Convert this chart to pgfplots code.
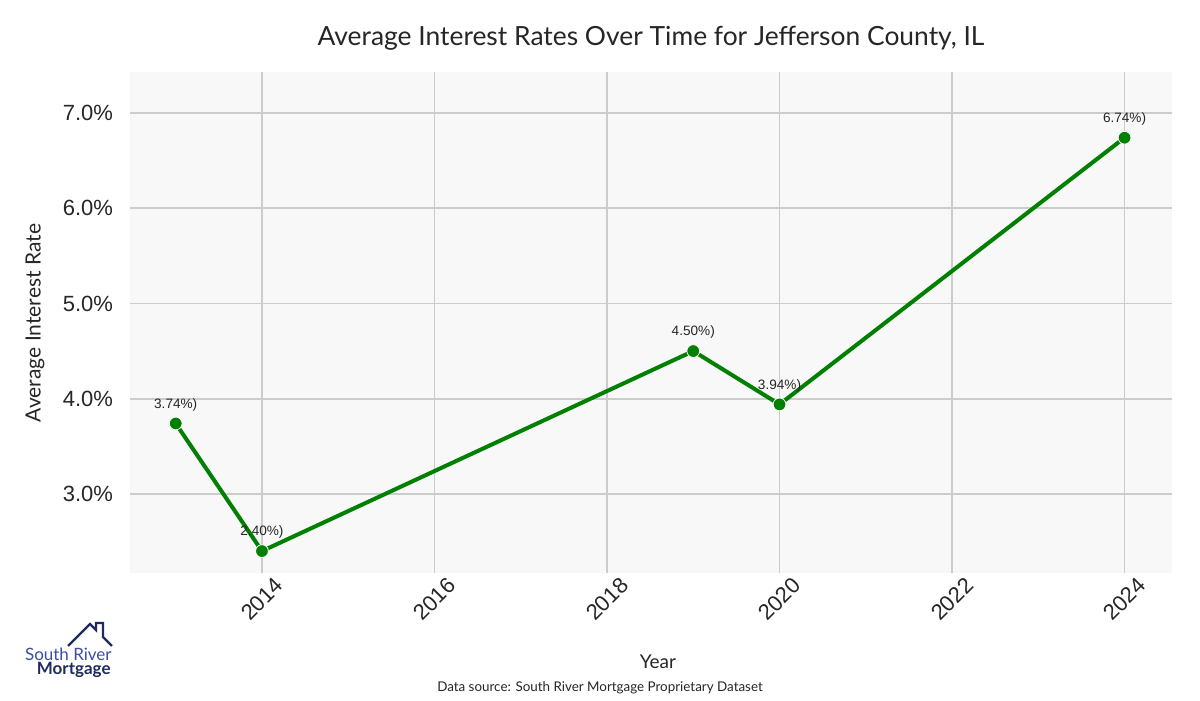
\documentclass[border=0pt]{standalone}
\usepackage{pgfplots}
\pgfplotsset{compat=1.18}
\usepackage{fontspec}
\setmainfont{Liberation Sans}
\newfontfamily\titlefont{Lato}
\definecolor{txt}{HTML}{262626}
\definecolor{gridc}{HTML}{CCCCCC}
\definecolor{bgc}{HTML}{F8F8F8}
\definecolor{linec}{HTML}{008000}
\definecolor{srblue}{HTML}{3B4DA6}
\definecolor{srnavy}{HTML}{1F2A5E}
\begin{document}
\begin{tikzpicture}[x=0.5pt,y=0.5pt]
% page frame, 1 unit = 1 reference pixel
\path (0,0) rectangle (1200,700);
\begin{axis}[
  at={(65pt,63.5pt)}, anchor=south west,
  scale only axis, width=521pt, height=250.5pt,
  xmin=2012.47, xmax=2024.55, ymin=2.17, ymax=7.43,
  axis background/.style={fill=bgc},
  axis line style={draw=none},
  major tick style={draw=none},
  grid=major, major grid style={gridc, line width=0.85pt},
  xtick={2014,2016,...,2024},
  ytick={3,4,5,6,7},
  /pgf/number format/assume math mode=true,
  xticklabel={\pgfmathprintnumber[1000 sep={}]{\tick}},
  yticklabel={\pgfmathprintnumber[fixed,fixed zerofill,precision=1]{\tick}\%},
  ticklabel style={font=\fontsize{11}{13}\selectfont, text=txt},
  xticklabel style={rotate=45, anchor=center},
  xticklabel shift=13pt,
  yticklabel style={xshift=-5pt},
  clip=false,
]
\addplot[linec, line width=2pt, mark=*, mark size=3.2pt,
  mark options={fill=linec, draw=white, line width=0.4pt},
  point meta=explicit symbolic,
  nodes near coords,
  nodes near coords style={anchor=south, yshift=6pt, inner sep=0pt,
    font=\fontsize{6.8}{8}\selectfont, text=txt}]
  coordinates {
  (2013,3.74) [3.74\%)]
  (2014,2.40) [2.40\%)]
  (2019,4.50) [4.50\%)]
  (2020,3.94) [3.94\%)]
  (2024,6.74) [6.74\%)]
  };
\end{axis}
% titles and labels
\node[font=\titlefont\fontsize{13.2}{15}\selectfont, text=txt] at (651,662) {Average Interest Rates Over Time for Jefferson County, IL};
\node[font=\titlefont\fontsize{10.5}{12}\selectfont, text=txt, rotate=90] at (35,377) {Average Interest Rate};
\node[font=\titlefont\fontsize{9.5}{11}\selectfont, text=txt] at (658,38) {Year};
\node[font=\titlefont\fontsize{6.7}{8}\selectfont, text=txt] at (600,12) {Data source: South River Mortgage Proprietary Dataset};
% logo
\draw[srnavy, line width=1.1pt, line join=miter]
  (68,54) -- (90,76) -- (96,70) -- (96,77) -- (103,77) -- (103,63) -- (112,54);
\node[font=\titlefont\fontsize{8.5}{9}\selectfont, text=srblue, anchor=east, inner sep=0pt] at (112,46) {South River};
\node[font=\titlefont\bfseries\fontsize{8.5}{9}\selectfont, text=srnavy, anchor=east, inner sep=0pt] at (111,30) {Mortgage};
\end{tikzpicture}
\end{document}
